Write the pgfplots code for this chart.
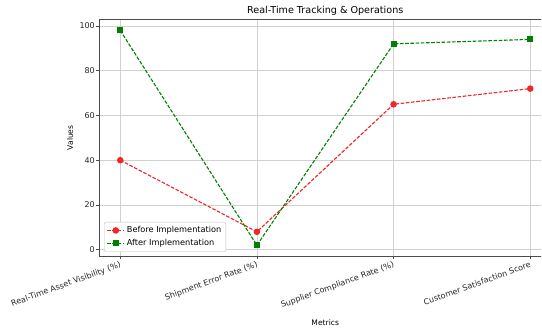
\documentclass[border=0pt]{standalone}
\usepackage{fontspec}
\setmainfont{DejaVu Sans}
\usepackage{pgfplots}
\pgfplotsset{compat=1.18}

\definecolor{mplred}{rgb}{0.95,0.15,0.15}
\definecolor{mplgreen}{rgb}{0,0.5,0}

\begin{document}
\begin{tikzpicture}
\useasboundingbox (-99.5pt,-72pt) rectangle (442.5pt,256pt);
\begin{scope}
% the figure is trimmed on the right, just past the last category
\clip (-99.5pt,-72pt) rectangle (441.5pt,256pt);
\begin{axis}[
  at={(0pt,0pt)}, anchor=south west,
  scale only axis,
  width=451.5pt, height=236.3pt,
  xmin=-0.152, xmax=3.152,
  ymin=-2.8, ymax=102.8,
  xtick={0,1,2,3},
  xticklabels={Real-Time Asset Visibility (\%),Shipment Error Rate (\%),Supplier Compliance Rate (\%),Customer Satisfaction Score},
  ytick={0,20,40,60,80,100},
  tick align=outside,
  major tick length=3pt,
  tick style={black!70, line width=0.5pt},
  xtick pos=bottom, ytick pos=left,
  axis line style={black!70, line width=0.6pt},
  grid=major,
  grid style={black!18, line width=0.7pt},
  xticklabel style={rotate=20, anchor=north east, font=\fontsize{8}{9}\selectfont, text=black!85, inner sep=1.5pt},
  yticklabel style={font=\fontsize{8}{9}\selectfont, text=black!85, inner sep=1.5pt},
  /pgf/number format/assume math mode=true,
  title={Real-Time Tracking \& Operations},
  title style={at={(axis description cs:0.5,1)}, anchor=center, yshift=2.7pt, font=\fontsize{9.6}{11}\selectfont},
  xlabel={Metrics},
  xlabel style={at={(axis description cs:0.5,-0.282)}, anchor=center, font=\fontsize{7.6}{9}\selectfont},
  ylabel={Values},
  ylabel style={at={(axis description cs:-0.0653,0.5)}, anchor=center, font=\fontsize{7.6}{9}\selectfont},
  legend style={at={(axis description cs:0.01,0.018)}, anchor=south west, draw=black!25, rounded corners=2pt, font=\fontsize{8.2}{9}\selectfont, row sep=1pt, inner sep=2.5pt},
  legend cell align=left,
]
\addplot[mplred, line width=1.1pt, dash pattern=on 3.6pt off 1.6pt, mark=*, mark size=2.7pt, mark options={solid}]
  coordinates {(0,40) (1,8) (2,65) (3,72)};
\addlegendentry{Before Implementation}
\addplot[mplgreen, line width=1.1pt, dash pattern=on 3.6pt off 1.6pt, mark=square*, mark size=2.5pt, mark options={solid}]
  coordinates {(0,98) (1,2) (2,92) (3,94)};
\addlegendentry{After Implementation}
\end{axis}
\end{scope}
\end{tikzpicture}
\end{document}
